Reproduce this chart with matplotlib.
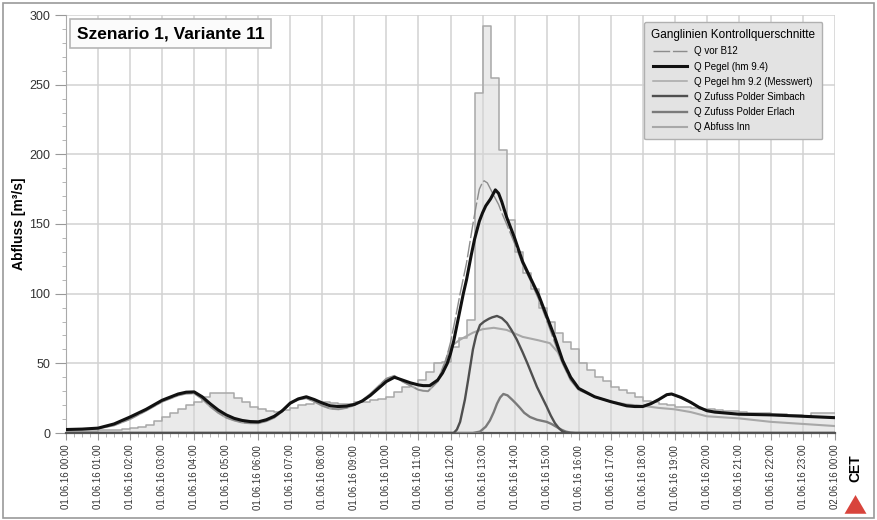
import matplotlib
matplotlib.use("Agg")
import matplotlib.pyplot as plt
from matplotlib.patches import Polygon, Rectangle
from matplotlib.ticker import MultipleLocator

plt.rcParams['font.family'] = ['Liberation Sans', 'DejaVu Sans']

# --- Daten ---
# Zeit in Stunden ab 01.06.16 00:00
hour_ticks = list(range(0, 25))
tick_labels = ["01.06.16 %02d:00" % h for h in range(24)] + ["02.06.16 00:00"]

# Q Pegel hm 9.2 (Messwert), 15-min Werte
mess_t = [i * 0.25 for i in range(97)]
mess_q = [1.5, 1.5, 1.5, 1.5, 2, 2, 2.5, 3,
          3.5, 4.5, 6, 8.5, 11.5, 14, 17, 20,
          22, 26, 28.5, 28.5, 28.5, 25, 22, 19,
          17, 16, 15, 16.5, 18, 20, 21, 22,
          22, 21.5, 21, 20.5, 22, 22.5, 24, 24.5,
          26, 29.5, 33, 35, 38, 44, 50, 51,
          62, 68, 81, 244, 292, 255, 203, 153,
          130, 115, 103, 90, 80, 72, 65, 60,
          50, 45, 40, 37, 33, 31, 29, 26,
          23, 22, 21, 20, 19, 18.5, 18, 17.5,
          17, 16.5, 16, 15.5, 15, 14.5, 14, 14,
          13.5, 13.5, 13, 13, 12.5, 14, 14, 14,
          14]

# Q Pegel (hm 9.4)
pegel_t = [0, 0.5, 1, 1.5, 2, 2.5, 3, 3.5, 3.75, 4, 4.25, 4.5, 4.75, 5, 5.25, 5.5, 5.75,
           6, 6.25, 6.5, 6.75, 7, 7.25, 7.5, 7.75, 8, 8.25, 8.5, 8.75, 9, 9.25, 9.5, 9.75,
           10, 10.25, 10.5, 10.75, 11, 11.15, 11.35, 11.6, 11.75, 11.9, 12.0, 12.1, 12.25,
           12.4, 12.5, 12.65, 12.75, 12.9, 13.0, 13.1, 13.25, 13.4, 13.5, 13.6, 13.75, 14,
           14.25, 14.5, 14.75, 15, 15.25, 15.5, 15.75, 16, 16.5, 17, 17.5, 17.75, 18, 18.25,
           18.5, 18.75, 18.9, 19.2, 19.5, 19.75, 20, 20.25, 20.5, 21, 22, 23, 24]
pegel_q = [2.5, 2.8, 3.5, 6.5, 11.5, 17, 23.5, 28, 29.3, 29.5, 26, 21, 16.5, 13, 10.5, 9, 8.2,
           8, 9.5, 12, 16, 21.5, 24.5, 26, 24, 21.5, 19.5, 19, 19.3, 20.5, 23, 27, 32,
           37, 40, 38, 36, 34.5, 34, 34, 38, 43, 50, 57, 66, 83,
           100, 110, 128, 139, 152, 158, 163, 168, 174.5, 172, 166, 155, 140,
           123, 111, 99, 84, 69, 52, 40, 32, 26, 22.5, 19.5, 19, 19, 21,
           24, 27.5, 28, 25.5, 22, 18.5, 16, 15, 14.5, 13.5, 13, 12, 11]

# Q vor B12
vor_t = [0, 0.5, 1, 1.5, 2, 2.5, 3, 3.5, 3.75, 4, 4.25, 4.5, 4.75, 5, 5.25, 5.5, 5.75,
         6, 6.25, 6.5, 6.75, 7, 7.25, 7.5, 7.75, 8, 8.25, 8.5, 8.75, 9, 9.25, 9.5, 9.75,
         10, 10.25, 10.5, 10.75, 11, 11.15, 11.3, 11.6, 11.75, 11.85, 12.0, 12.15, 12.3,
         12.4, 12.5, 12.6, 12.7, 12.8, 12.9, 13.0, 13.05, 13.15, 13.25, 13.35, 13.5, 13.6,
         13.75, 14, 14.25, 14.5, 14.75, 15, 15.25, 15.5, 15.75, 16, 16.5, 17, 17.5, 18,
         18.25, 18.5, 18.75, 18.9, 19.2, 19.5, 20, 20.5, 21, 22, 23, 24]
vor_q = [2.5, 2.6, 3.2, 5.5, 10, 16, 22.5, 27, 28.3, 28.5, 24.5, 19, 14.5, 11, 9, 7.5, 7,
         7, 8.5, 11, 15.5, 21, 24, 25, 22.5, 19.5, 17.5, 17, 18, 20, 23.5, 28, 33.5,
         39, 41, 37, 34, 31, 30.3, 30, 37, 46, 52, 65, 82, 100,
         111, 122, 136, 150, 163, 175, 180, 181, 179.5, 175, 170.5, 164, 158,
         150, 136, 121, 109, 96, 81, 65, 50, 38, 31, 26, 22.5, 20, 19.5,
         21.5, 24, 27, 28, 25, 21.5, 16, 14.5, 13.5, 12.8, 12, 11]

# Q Abfuss Inn
inn_t = [0, 0.5, 1, 1.5, 2, 2.5, 3, 3.5, 3.75, 4, 4.25, 4.5, 4.75, 5, 5.25, 5.5, 5.75,
         6, 6.25, 6.5, 6.75, 7, 7.25, 7.5, 7.75, 8, 8.25, 8.5, 8.75, 9, 9.25, 9.5, 9.75,
         10, 10.25, 10.5, 10.75, 11, 11.15, 11.3, 11.6, 11.75, 11.85, 12.0, 12.3, 12.7,
         13.0, 13.35, 13.75, 14.25, 14.75, 15.1, 15.35, 15.5, 15.75, 16, 16.5, 17, 17.5,
         18, 18.5, 19, 19.5, 20, 21, 22, 23, 24]
inn_q = [2.5, 2.6, 3.2, 5.5, 10, 16, 22.5, 27, 28.3, 28.5, 24.5, 19, 14.5, 11, 9, 7.5, 7,
         7, 8.5, 11, 15.5, 21, 24, 25, 22.5, 19.5, 17.5, 17, 18, 20, 23.5, 28, 33.5,
         39, 41, 37, 34, 31, 30.3, 30, 37, 46, 52, 62, 67, 72,
         74.5, 75.5, 74, 69, 66.5, 64.5, 58, 50, 38, 31, 26, 22.5, 20.5,
         19.5, 18, 17, 15, 12, 10.5, 8, 6.5, 5]

# Q Zufuss Polder Simbach
sim_t = [0, 12.1, 12.2, 12.3, 12.45, 12.55, 12.7, 12.8, 12.92, 13.05, 13.2, 13.3, 13.45,
         13.6, 13.76, 13.9, 14.07, 14.25, 14.4, 14.55, 14.7, 14.85, 15.0, 15.13, 15.26,
         15.38, 15.5, 15.6, 15.7, 24]
sim_q = [0, 0, 2.5, 8, 24, 38, 60, 70, 77.5, 80, 82, 83, 84,
         82.5, 79, 74, 67, 58, 50, 41.5, 33, 26, 19, 12.5, 7,
         3.5, 1, 0.3, 0, 0]

# Q Zufuss Polder Erlach
erl_t = [0, 12.7, 12.92, 13.1, 13.23, 13.35, 13.45, 13.55, 13.65, 13.78, 13.92, 14.05,
         14.17, 14.3, 14.48, 14.7, 15.0, 15.15, 15.3, 15.45, 15.6, 15.75, 15.9, 24]
erl_q = [0, 0, 1, 4.5, 9, 15, 21, 25.5, 28, 27, 24, 21,
         18, 14.5, 11.5, 9.5, 8, 6.5, 4.5, 2.5, 1, 0.3, 0, 0]

fig = plt.figure(figsize=(8.77, 5.2), dpi=100, facecolor='white')
ax = fig.add_axes([66 / 877, 87 / 520, 769 / 877, 418 / 520])

ax.fill_between(mess_t, mess_q, step='post', color='#d6d6d6', alpha=0.5, lw=0, zorder=2)
l_mess, = ax.step(mess_t, mess_q, where='post', color='#a8a8a8', lw=1.1, zorder=3)
l_inn, = ax.plot(inn_t, inn_q, color='#a8a8a8', lw=1.5, zorder=4, solid_joinstyle='round')
l_erl, = ax.plot(erl_t, erl_q, color='#7a7a7a', lw=1.7, zorder=5, solid_joinstyle='round')
l_sim, = ax.plot(sim_t, sim_q, color='#4f4f4f', lw=1.7, zorder=5, solid_joinstyle='round')
l_vor, = ax.plot(vor_t, vor_q, color='#8c8c8c', lw=1.0, dashes=(12, 2), zorder=6)
l_peg, = ax.plot(pegel_t, pegel_q, color='#111111', lw=2.2, zorder=7, solid_joinstyle='round')

ax.set_xlim(0, 24)
ax.set_ylim(0, 300)
ax.set_xticks(hour_ticks)
ax.set_xticklabels(tick_labels, rotation=90, fontsize=7, color='#333333')
ax.xaxis.set_minor_locator(MultipleLocator(0.25))
ax.yaxis.set_major_locator(MultipleLocator(50))
ax.yaxis.set_minor_locator(MultipleLocator(10))
ax.tick_params(axis='y', labelsize=9, labelcolor='#333333', color='#999999', length=8)
ax.tick_params(axis='x', color='#999999', length=5)
ax.tick_params(which='minor', color='#aaaaaa', length=3)
ax.grid(True, which='major', color='#d2d2d2', lw=1.1)
ax.set_axisbelow(True)
for s in ['top', 'right']:
    ax.spines[s].set_visible(False)
ax.spines['left'].set_color('#aaaaaa')
ax.spines['bottom'].set_color('#555555')
ax.spines['bottom'].set_linewidth(1.6)

ax.set_ylabel('Abfluss [m³/s]', fontsize=10, fontweight='bold', labelpad=2)

ax.text(0.014, 0.955, 'Szenario 1, Variante 11', transform=ax.transAxes, fontsize=12.5,
        fontweight='bold', va='center', ha='left', zorder=10,
        bbox=dict(boxstyle='square,pad=0.4', fc='#fbfbfb', ec='#b5b5b5', lw=1.2))

leg = ax.legend([l_vor, l_peg, l_mess, l_sim, l_erl, l_inn],
                ['Q vor B12', 'Q Pegel (hm 9.4)', 'Q Pegel hm 9.2 (Messwert)',
                 'Q Zufuss Polder Simbach', 'Q Zufuss Polder Erlach', 'Q Abfuss Inn'],
                title='Ganglinien Kontrollquerschnitte', title_fontsize=8.5, fontsize=7,
                loc='upper right', bbox_to_anchor=(0.99, 0.995), fancybox=True,
                facecolor='#e3e3e3', edgecolor='#b0b0b0', framealpha=1,
                handlelength=3.4, labelspacing=0.53, borderpad=0.75, handletextpad=0.8)
leg.get_frame().set_linewidth(1.0)
leg.set_zorder(10)

# CET Logo
fig.text(0.975, 0.10, 'CET', rotation=90, fontsize=10, fontweight='bold', ha='center', va='center')
fig.patches.append(Polygon([[0.963, 0.012], [0.988, 0.012], [0.9755, 0.048]], closed=True,
                           transform=fig.transFigure, fc='#d8443c', ec='none'))
fig.patches.append(Rectangle((0.003, 0.003), 0.994, 0.991, transform=fig.transFigure,
                             fill=False, ec='#9a9a9a', lw=1.2))

fig.savefig('out.png', dpi=100)
